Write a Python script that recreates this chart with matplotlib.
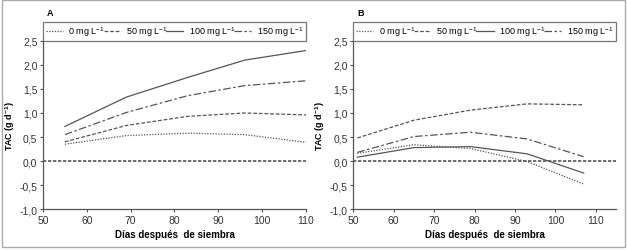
import matplotlib.pyplot as plt
from matplotlib.patches import Rectangle

plt.rcParams['font.family'] = ['Liberation Sans Narrow', 'Liberation Sans', 'DejaVu Sans']
plt.rcParams['mathtext.default'] = 'regular'

# panel A
dias_a = [55, 69, 83, 96, 110]
a_0 = [0.35, 0.53, 0.58, 0.55, 0.39]
a_50 = [0.40, 0.74, 0.93, 1.00, 0.96]
a_100 = [0.72, 1.33, 1.74, 2.10, 2.30]
a_150 = [0.55, 1.01, 1.36, 1.57, 1.67]

# panel B
dias_b = [51, 65, 79, 93, 107]
b_0 = [0.16, 0.34, 0.26, -0.01, -0.48]
b_50 = [0.48, 0.85, 1.06, 1.19, 1.17]
b_100 = [0.08, 0.28, 0.30, 0.15, -0.25]
b_150 = [0.18, 0.51, 0.60, 0.46, 0.09]

labels = ['0 mg L$^{-1}$', '50 mg L$^{-1}$', '100 mg L$^{-1}$', '150 mg L$^{-1}$']
styles = [(0, (1, 1.2)), (0, (3, 1.5)), '-', (0, (6, 2, 2, 2))]
yticks = [-1.0, -0.5, 0.0, 0.5, 1.0, 1.5, 2.0, 2.5]
col = '#555555'

fig = plt.figure(figsize=(6.27, 2.51), dpi=100)
fig.patches.append(Rectangle((0.003, 0.012), 0.994, 0.985, transform=fig.transFigure,
                             fill=False, edgecolor='#aaaaaa', lw=1))

ax_a = fig.add_axes([0.0686, 0.163, 0.4194, 0.670])
ax_b = fig.add_axes([0.5635, 0.163, 0.4190, 0.670])

panels = [
    (ax_a, 'A', dias_a, [a_0, a_50, a_100, a_150], (50, 110), [50, 60, 70, 80, 90, 100, 110]),
    (ax_b, 'B', dias_b, [b_0, b_50, b_100, b_150], (50, 115), [50, 60, 70, 80, 90, 100, 110]),
]

for ax, letra, dias, series, xlim, xticks in panels:
    ax.axhline(0, color='#555555', lw=1.2, ls=(0, (2, 1)))
    for vals, ls, lab in zip(series, styles, labels):
        ax.plot(dias, vals, color=col, lw=0.9, ls=ls, label=lab)
    ax.set_xlim(*xlim)
    ax.set_ylim(-1.0, 2.5)
    ax.set_xticks(xticks)
    ax.set_yticks(yticks)
    ax.set_yticklabels([f'{v:.1f}'.replace('.', ',') for v in yticks])
    for s in ['top', 'right']:
        ax.spines[s].set_visible(False)
    for s in ['left', 'bottom']:
        ax.spines[s].set_color('#555555')
        ax.spines[s].set_linewidth(0.9)
    ax.tick_params(length=2, width=0.8, color='#555555', labelsize=7.5,
                   labelcolor='#333333', pad=2)
    ax.set_xlabel('Días después  de siembra', fontsize=7, fontweight='bold', labelpad=3)
    ax.set_ylabel('TAC (g d$^{-1}$)', fontsize=6.5, fontweight='bold', labelpad=2)
    leg = ax.legend(loc='lower left', bbox_to_anchor=(0.0, 1.0, 1.0, 0.11), mode='expand',
                    ncol=4, fontsize=6.5, frameon=True, fancybox=False, borderaxespad=0,
                    handlelength=1.9, handletextpad=0.6, columnspacing=1.0,
                    borderpad=0.3)
    leg.get_frame().set_edgecolor('#555555')
    leg.get_frame().set_linewidth(0.9)
    ax.text(0.015, 1.17, letra, transform=ax.transAxes, fontsize=6.5, fontweight='bold',
            va='center')

fig.savefig('out.png', dpi=100)
